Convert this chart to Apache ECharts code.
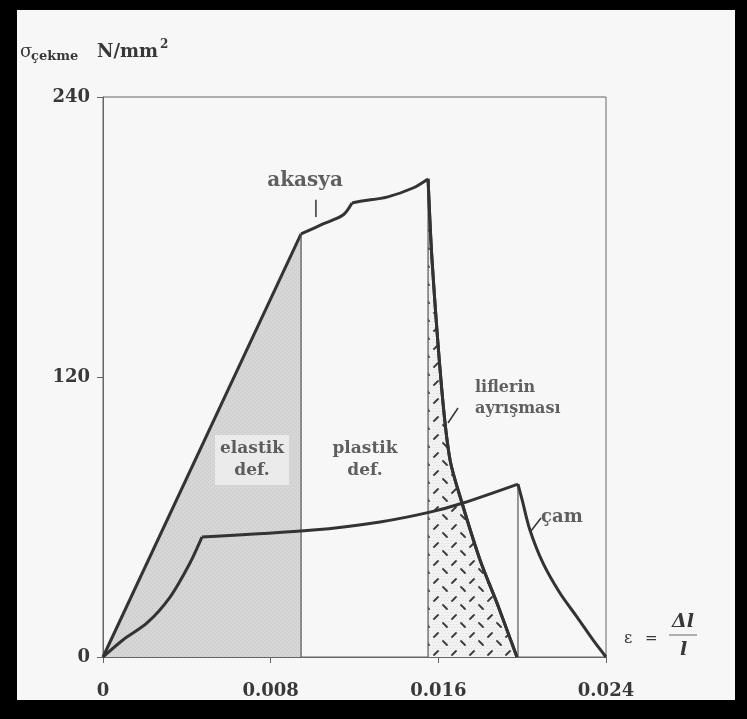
<!DOCTYPE html>
<html>
<head>
<meta charset="utf-8">
<script src="https://cdn.jsdelivr.net/npm/echarts@6/dist/echarts.min.js"></script>
<style>
  html, body { margin: 0; padding: 0; background: #000; }
  #main { width: 747px; height: 719px; }
</style>
</head>
<body>
<div id="main"></div>
<script>
// strain (ε) vs tensile stress (N/mm²)
var xTicks = [0, 0.008, 0.016, 0.024];
var yTicks = [0, 120, 240];

var akasyaElastic = [[0, 0], [0.00945, 181.3]];
var akasyaPlastic1 = [[0.00945, 181.3], [0.0105, 185.6], [0.01145, 189.4], [0.01188, 194.6]];
var akasyaPlastic2 = [[0.01188, 194.6], [0.01236, 195.4], [0.01355, 197.1], [0.01479, 201.0], [0.01551, 204.9]];
var akasyaDrop = [[0.01551, 204.9], [0.0157, 170.1], [0.01618, 113.1], [0.01656, 84.4], [0.01713, 66.0],
                  [0.01799, 41.6], [0.0188, 23.1], [0.01975, 0]];

var camRise = [[0, 0], [0.00095, 7.3], [0.0021, 14.6], [0.0032, 25.7], [0.00415, 40.3], [0.00472, 51.4]];
var camFlat = [[0.00472, 51.4], [0.01002, 54.4], [0.01322, 57.9], [0.0156, 62.1], [0.01718, 66.0], [0.0198, 74.1]];
var camDrop = [[0.0198, 74.1], [0.02, 67.3], [0.02037, 54.4], [0.02099, 40.3], [0.0218, 27.4],
               [0.02262, 17.1], [0.02338, 7.3], [0.024, 0]];

// annotations: [ε, σ, text]
var akasyaNote = [[0.00964, 204, 'akasya']];
var plasticNote = [[0.01250, 84.4, 'plastik\ndef.']];
var camNote = [[0.02090, 60.0, 'çam']];
var elasticNote = [[0.00711, 84.4, 'elastik\ndef.']];
var fiberNote = [[0.01775, 111, 'liflerin\nayrışması']];
// leader strokes
var leaders = [
  [[0.01016, 196], [0.01016, 188.6]],
  [[0.01694, 106.7], [0.01646, 100.3]],
  [[0.02090, 59.6], [0.02042, 54.0]]
];

var FONT = 'DejaVu Serif';
var INK = '#333';
var TXT = '#383838';

function dotPattern() {
  var c = document.createElement('canvas');
  c.width = 4; c.height = 4;
  var g = c.getContext('2d');
  g.fillStyle = '#d6d6d6';
  g.fillRect(0, 0, 4, 4);
  g.fillStyle = '#c6c6c6';
  g.fillRect(0, 0, 1, 1);
  g.fillRect(2, 2, 1, 1);
  return c;
}

function hatchPattern() {
  var c = document.createElement('canvas');
  c.width = 18; c.height = 18;
  var g = c.getContext('2d');
  g.fillStyle = '#f2f2f2';
  g.fillRect(0, 0, 18, 18);
  g.fillStyle = '#dcdcdc';
  for (var i = 0; i < 18; i += 3) {
    for (var j = (i % 2); j < 18; j += 3) g.fillRect(j, i, 1, 1);
  }
  g.strokeStyle = '#3a3a3a';
  g.lineWidth = 1.8;
  g.lineCap = 'round';
  g.beginPath();
  g.moveTo(2, 7); g.lineTo(6, 3);
  g.moveTo(11, 11); g.lineTo(15, 15);
  g.stroke();
  return c;
}

function curve(data, smooth, extra) {
  var s = {
    type: 'line',
    data: data,
    smooth: smooth,
    symbol: 'none',
    silent: true,
    lineStyle: { color: INK, width: 3 },
    z: 5
  };
  for (var k in extra) s[k] = extra[k];
  return s;
}

function vline(pt) {
  return {
    type: 'line',
    data: [[pt[0], 0], [pt[0], pt[1]]],
    symbol: 'none',
    silent: true,
    lineStyle: { color: '#555', width: 1.2 },
    z: 4
  };
}

function note(data, size, align, extra) {
  var lbl = {
    show: true, position: 'inside', formatter: function (p) { return p.data[2]; },
    fontFamily: FONT, fontWeight: 'bold', fontSize: size, color: TXT,
    lineHeight: Math.round(size * 1.3), align: align
  };
  for (var k in extra) lbl[k] = extra[k];
  return { type: 'scatter', data: data, symbolSize: 0, silent: true, z: 7, label: lbl };
}

var series = [
  curve(akasyaElastic, false, { areaStyle: { color: { image: dotPattern(), repeat: 'repeat' }, opacity: 1 }, z: 3 }),
  curve(akasyaDrop, 0.3, { areaStyle: { color: { image: hatchPattern(), repeat: 'repeat' }, opacity: 1 }, z: 3 }),
  vline(akasyaElastic[1]),
  vline(akasyaDrop[0]),
  vline(camFlat[camFlat.length - 1]),
  curve(akasyaPlastic1, 0.3),
  curve(akasyaPlastic2, 0.3),
  curve(akasyaDrop, 0.3),
  curve(camRise, 0.3),
  curve(camFlat, 0.3),
  curve(camDrop, 0.3)
];

leaders.forEach(function (seg) {
  series.push({
    type: 'line', data: seg, symbol: 'none', silent: true,
    lineStyle: { color: INK, width: 1.5 }, z: 6
  });
});

series.push(note(akasyaNote, 20, 'center'));
series.push(note(plasticNote, 17, 'center'));
series.push(note(camNote, 18, 'left'));
series.push(note(fiberNote, 16, 'left'));
series.push(note(elasticNote, 17, 'center', { backgroundColor: '#f0f0f0', padding: [3, 5, 3, 5] }));

function txt(x, y, s, size, opts) {
  var st = { text: s, fontFamily: FONT, fontWeight: 'bold', fontSize: size, fill: TXT,
             textVerticalAlign: 'middle' };
  for (var k in opts) st[k] = opts[k];
  return { type: 'text', x: x, y: y, z: 10, silent: true, style: st };
}

var chart = echarts.init(document.getElementById('main'));
chart.setOption({
  animation: false,
  backgroundColor: '#000',
  graphic: [
    { type: 'rect', shape: { x: 17, y: 10, width: 718, height: 690 }, style: { fill: '#f7f7f7' }, z: -10, silent: true },
    txt(20, 52, 'σ', 18, { fontWeight: 'normal' }),
    txt(31, 57, 'çekme', 13),
    txt(97, 52, 'N/mm', 18),
    txt(160, 45, '2', 12),
    txt(624, 639, 'ε', 16, { fontWeight: 'normal' }),
    txt(645, 639, '=', 15, { fontWeight: 'normal' }),
    txt(672, 622, 'Δl', 19, { fontStyle: 'italic' }),
    { type: 'line', shape: { x1: 669, y1: 635, x2: 697, y2: 635 }, style: { stroke: '#666', lineWidth: 1 }, z: 10 },
    txt(680, 650, 'l', 19, { fontStyle: 'italic' })
  ],
  grid: {
    left: 103, right: 141, top: 97, bottom: 62,
    show: true, borderColor: '#666', borderWidth: 1, backgroundColor: 'transparent'
  },
  xAxis: {
    type: 'value', min: xTicks[0], max: xTicks[xTicks.length - 1], interval: xTicks[1] - xTicks[0],
    splitLine: { show: false },
    axisLine: { lineStyle: { color: '#666', width: 1 } },
    axisTick: { show: true, length: 6, lineStyle: { color: '#666' } },
    axisLabel: {
      margin: 25, fontFamily: FONT, fontWeight: 'bold', fontSize: 18, color: TXT,
      formatter: function (v) { return v === 0 ? '0' : v.toFixed(3); }
    }
  },
  yAxis: {
    type: 'value', min: yTicks[0], max: yTicks[yTicks.length - 1], interval: yTicks[1] - yTicks[0],
    splitLine: { show: false },
    axisLine: { show: true, lineStyle: { color: '#666', width: 1 } },
    axisTick: { show: true, length: 6, lineStyle: { color: '#666' } },
    axisLabel: { margin: 13, fontFamily: FONT, fontWeight: 'bold', fontSize: 18, color: TXT }
  },
  series: series
});
</script>
</body>
</html>
